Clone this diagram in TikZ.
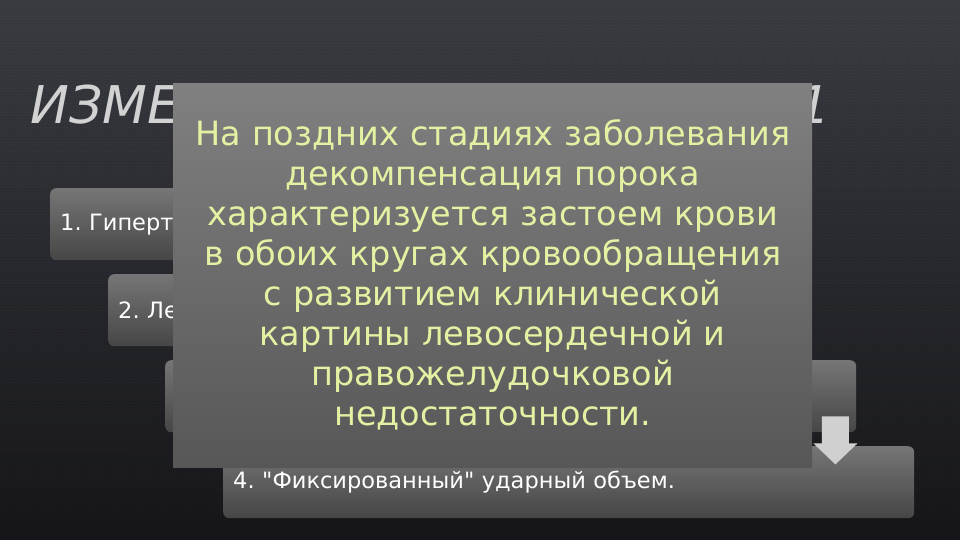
\documentclass[tikz,border=0pt]{standalone}
\usepackage{fontspec}
\setmainfont{DejaVu Sans}[Ligatures=TeXOff]
\usetikzlibrary{calc,patterns}

\definecolor{bgtop}{HTML}{3A3D42}
\definecolor{bgmid}{HTML}{2A2C31}
\definecolor{bgbot}{HTML}{16161A}
\definecolor{boxtop}{HTML}{767676}
\definecolor{boxbot}{HTML}{464646}
\definecolor{notetop}{HTML}{808080}
\definecolor{notebot}{HTML}{575757}
\definecolor{notetext}{HTML}{E3F2A2}
\definecolor{titlegray}{HTML}{D2D2D2}
\definecolor{arrowgray}{HTML}{D0D0D0}

\tikzset{
  stagebox/.style={shade, top color=boxtop, bottom color=boxbot, rounded corners=6pt,
    anchor=north west, minimum width=691pt, minimum height=72pt, text width=671pt,
    inner xsep=10pt, align=left, text=white, font=\fontsize{22.5}{26}\selectfont},
  notebox/.style={shade, top color=notetop, bottom color=notebot, anchor=north west,
    minimum width=639pt, minimum height=384pt, text width=619pt, inner sep=0pt,
    align=center, text=notetext, font=\fontsize{33.5}{40}\selectfont},
  heading/.style={text=titlegray, inner sep=0pt, font=\fontsize{52}{52}\selectfont\itshape}
}

% block arrow hanging under the lower right corner of a stage
\newcommand{\stagearrow}[1]{%
  \fill[arrowgray] ($(#1.south east)+(-34.5,-16)$) -- ++(27,0) -- ++(0,27) -- ++(8.5,0)
    -- ++(-22,21) -- ++(-22,-21) -- ++(8.5,0) -- cycle;}

\begin{document}
\frenchspacing
\begin{tikzpicture}[x=1pt,y=-1pt]
    \useasboundingbox (0,0) rectangle (960,540);
    \shade[top color=bgtop, middle color=bgmid, bottom color=bgbot] (0,0) rectangle (960,540);
    \fill[pattern=dots, pattern color=black, opacity=0.35] (0,0) rectangle (960,540);

    % heading, mostly hidden by the note
    \node[heading, anchor=base west] (title) at (30,124) {ИЗМЕ};
    \node[heading, anchor=base east] (titleend) at (831,124) {1};

    % stages
    \node[stagebox] (b1) at (50,188) {1. Гипертр};
    \node[stagebox] (b2) at (108,274) {2. Ле};
    \node[stagebox] (b3) at (165,360) {};
    \node[stagebox] (b4) at (223,446) {4. "Фиксированный" ударный объем.};

    \stagearrow{b1}
    \stagearrow{b2}
    \stagearrow{b3}

    % note laid over the stages
    \node[notebox] (note) at (173,83) {На поздних стадиях заболевания\\
        декомпенсация порока\\
        характеризуется застоем крови\\
        в обоих кругах кровообращения\\
        с развитием клинической\\
        картины левосердечной и\\
        правожелудочковой\\
        недостаточности.};
\end{tikzpicture}
\end{document}
